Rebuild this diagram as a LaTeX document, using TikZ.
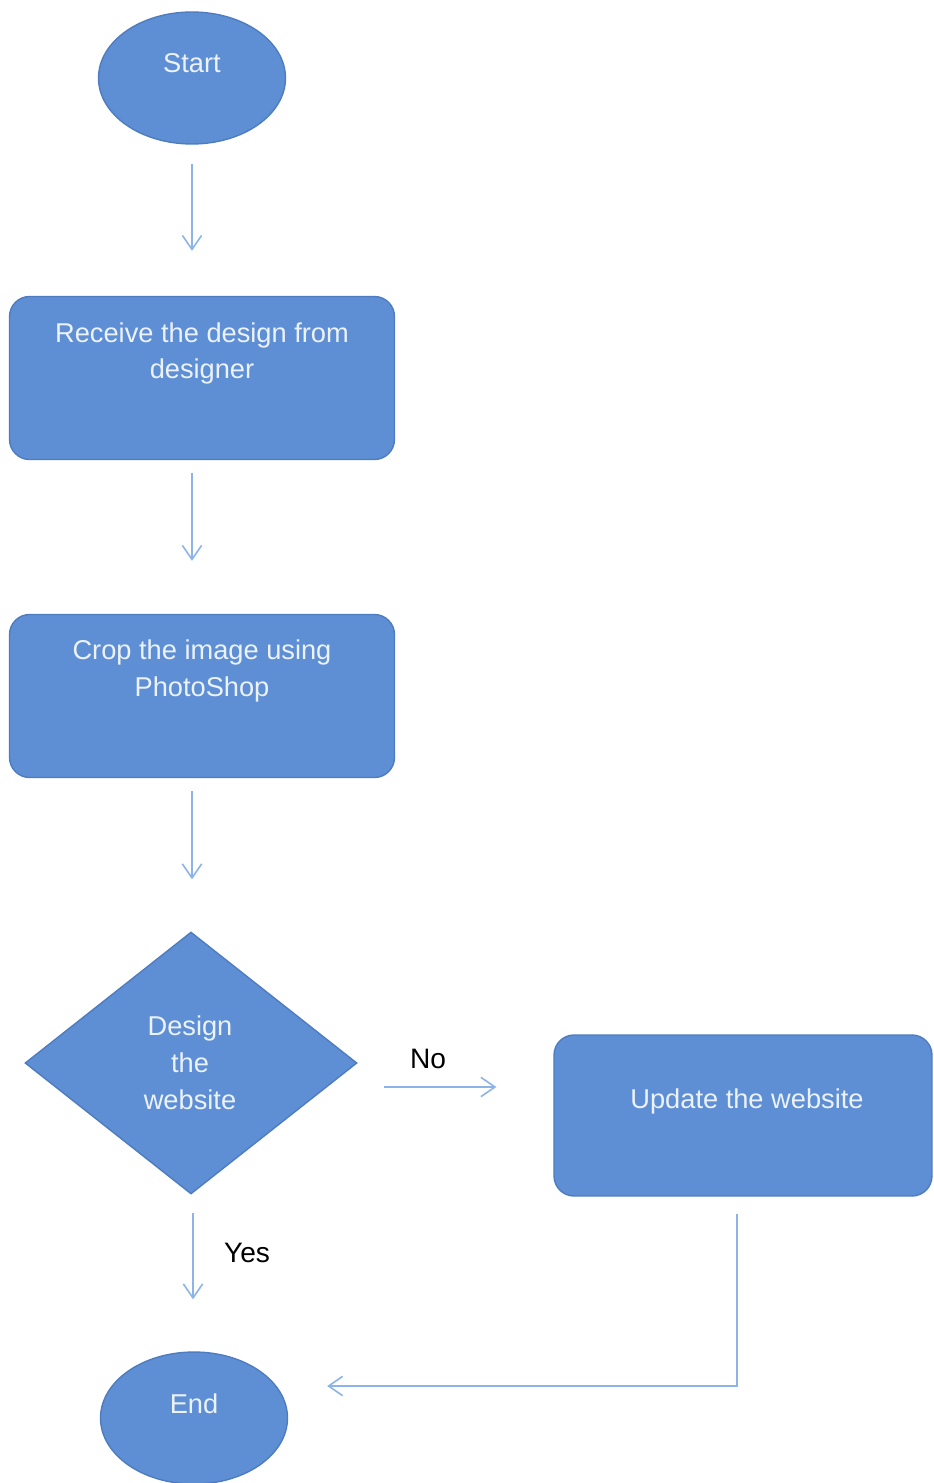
\documentclass[tikz,border=0pt]{standalone}
\usepackage{fontspec}
\setmainfont{Liberation Sans}
\usetikzlibrary{shapes.geometric,arrows.meta,calc}
\definecolor{shapefill}{RGB}{94,143,212}
\definecolor{shapeedge}{RGB}{78,124,192}
\definecolor{arrowcol}{RGB}{140,180,232}
\definecolor{shapetext}{RGB}{236,242,250}
\tikzset{
  shapebase/.style={fill=shapefill, draw=shapeedge, line width=0.8pt, inner sep=0pt},
  terminal/.style={shapebase, ellipse, minimum width=3.74cm, minimum height=2.64cm},
  process/.style={shapebase, rectangle, rounded corners=0.4cm, minimum width=7.7cm, minimum height=3.26cm},
  decision/.style={shapebase, diamond, minimum width=6.64cm, minimum height=5.24cm},
  intext/.style={font=\fontsize{15.5}{21}\selectfont, text=shapetext, align=center, inner sep=0pt},
  edgelabel/.style={font=\fontsize{16}{19}\selectfont, text=black, inner sep=0pt},
  flow/.style={draw=arrowcol, line width=0.9pt, -{Straight Barb[length=8pt,width=11pt]}}
}
\begin{document}
\begin{tikzpicture}[x=0.02cm,y=-0.02cm]
\clip (0,0) rectangle (933,1483);
\fill[white] (0,0) rectangle (933,1483);

% shapes
\node[terminal] (s) at (192,78) {};
\node[process] (r1) at (202,378) {};
\node[process] (r2) at (202,696) {};
\node[decision] (d) at (191,1063) {};
\node[process, minimum width=7.56cm, minimum height=3.22cm] (u) at (743,1115.5) {};
\node[terminal] (e) at (194,1418) {};

% texts
\node[intext] (st) at ([yshift=0.3cm]s.center) {Start};
\node[intext] (r1t) at ([yshift=0.49cm]r1.center) {Receive the design from\\designer};
\node[intext] (r2t) at ([yshift=0.5cm]r2.center) {Crop the image using\\PhotoShop};
\node[intext] (dt) at ([xshift=-0.02cm]d.center) {Design\\the\\website};
\node[intext] (ut) at ([xshift=0.08cm,yshift=0.29cm]u.center) {Update the website};
\node[intext] (et) at ([yshift=0.28cm]e.center) {End};

% connectors
\draw[flow, shorten <=0.38cm, shorten >=0.9cm] (s.south) -- (s.south |- r1.north);
\draw[flow, shorten <=0.26cm, shorten >=1.06cm] (r1.south -| s.south) -- (r2.north -| s.south);
\draw[flow, shorten <=0.26cm, shorten >=1.04cm] (r2.south -| s.south) -- (d.north -| s.south);
\coordinate (nostart) at ([yshift=-0.48cm]d.east);
\draw[flow, shorten <=0.52cm, shorten >=1.14cm] (nostart) -- (nostart -| u.west);
\coordinate (yesstart) at ([xshift=0.04cm]d.south);
\draw[flow, shorten <=0.36cm, shorten >=1.04cm] (yesstart) -- (yesstart |- e.north);
\coordinate (ustart) at ([xshift=-0.12cm]u.south);
\coordinate (eend) at ([yshift=0.64cm]e.east);
\draw[flow, shorten <=0.34cm, shorten >=0.78cm] (ustart) |- (eend);

% edge labels
\node[edgelabel] (no) at (428,1059) {No};
\node[edgelabel] (yes) at (247,1253) {Yes};
\end{tikzpicture}
\end{document}
